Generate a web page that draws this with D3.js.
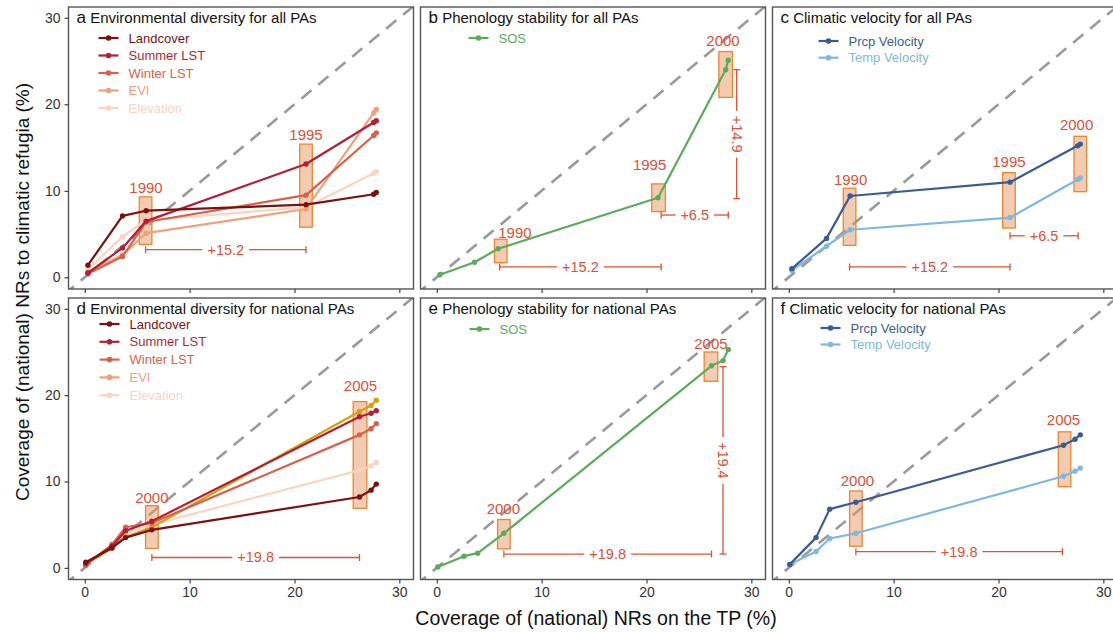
<!DOCTYPE html>
<html>
<head>
<meta charset="utf-8">
<script src="https://cdn.jsdelivr.net/npm/d3@7"></script>
<style>
  body { margin: 0; background: #fff; }
  svg { display: block; font-family: 'Liberation Sans', Arial, sans-serif; }
</style>
</head>
<body>
<script>
// coverage of NRs on the TP (%) at each step
const xAll = [0.3, 3.6, 5.85, 21.1, 27.55, 27.8];
const xNat = [0.1, 2.6, 3.9, 6.4, 26.2, 27.3, 27.8];

// coverage of NRs to climatic refugia (%) - all PAs
const aLandcover = [1.4, 7.1, 7.7, 8.4, 9.6, 9.8];
const aSummer    = [0.5, 3.4, 6.5, 13.1, 17.9, 18.1];
const aWinter    = [0.4, 2.4, 6.4, 9.5, 16.4, 16.7];
const aEVI       = [0.6, 2.6, 5.1, 7.9, 19.0, 19.4];
const aElevation = [0.9, 4.7, 6.6, 8.1, 12.0, 12.2];
const bSOS       = [0.3, 1.75, 3.3, 9.2, 24.0, 25.1];
const cPrcp      = [1.0, 4.5, 9.4, 11.0, 15.2, 15.4];
const cTemp      = [0.8, 3.6, 5.5, 6.9, 11.3, 11.5];

// national PAs
const dLandcover = [0.65, 2.3, 3.5, 4.4, 8.2, 9.0, 9.7];
const dSummer    = [0.5, 2.5, 4.3, 5.4, 17.5, 17.9, 18.2];
const dWinter    = [0.3, 2.7, 4.7, 5.2, 15.4, 16.1, 16.7];
const dEVI       = [0.4, 2.3, 3.6, 4.7, 18.1, 18.8, 19.4];
const dElevation = [0.5, 2.7, 4.0, 5.0, 11.3, 11.8, 12.2];
const eSOS       = [0.1, 1.35, 1.7, 4.0, 23.4, 24.0, 25.3];
const fPrcp      = [0.4, 3.5, 6.8, 7.6, 14.2, 14.9, 15.4];
const fTemp      = [0.4, 1.9, 3.4, 4.0, 10.6, 11.2, 11.55];

const xTicks = [0, 10, 20, 30];
const yTicks = [0, 10, 20, 30];

// highlighted years: [panel, year, x0, x1, y0, y1, labelX, labelY]
const yearBoxes = [
  ['a', '1990', 5.2, 6.4, 3.8, 9.3, 5.84, 9.8],
  ['a', '1995', 20.5, 21.7, 5.8, 15.4, 21.1, 15.9],
  ['b', '1990', 5.5, 6.7, 1.7, 4.4, 7.46, 4.6],
  ['b', '1995', 20.5, 21.8, 7.6, 10.8, 20.3, 12.4],
  ['b', '2000', 26.9, 28.2, 20.8, 26.1, 27.3, 26.7],
  ['c', '1990', 5.2, 6.4, 3.7, 10.3, 5.9, 10.7],
  ['c', '1995', 20.4, 21.6, 5.7, 12.1, 21.0, 12.8],
  ['c', '2000', 27.2, 28.4, 9.9, 16.3, 27.45, 17.0],
  ['d', '2000', 5.8, 7.0, 2.25, 7.2, 6.4, 7.5],
  ['d', '2005', 25.6, 26.9, 6.9, 19.25, 26.3, 20.5],
  ['e', '2000', 5.8, 7.0, 2.2, 5.6, 6.35, 6.2],
  ['e', '2005', 25.5, 26.8, 21.6, 25.0, 26.15, 25.3],
  ['f', '2000', 5.8, 7.0, 2.5, 8.9, 6.55, 9.5],
  ['f', '2005', 25.7, 26.9, 9.4, 15.75, 26.2, 16.6]
];

// increments: [panel, label, direction, from, to, at]
const increments = [
  ['a', '+15.2', 'h', 5.8, 21.1, 3.2],
  ['b', '+15.2', 'h', 6.0, 21.4, 1.2],
  ['b', '+6.5', 'h', 21.4, 27.8, 7.2],
  ['b', '+14.9', 'v', 9.1, 24.0, 28.6],
  ['c', '+15.2', 'h', 5.8, 21.1, 1.2],
  ['c', '+6.5', 'h', 21.1, 27.6, 4.8],
  ['d', '+19.8', 'h', 6.4, 26.2, 1.2],
  ['e', '+19.8', 'h', 6.4, 26.2, 1.6],
  ['e', '+19.4', 'v', 1.6, 23.3, 27.3],
  ['f', '+19.8', 'h', 6.4, 26.1, 1.87]
];

const reds = { Landcover: '#7e1010', 'Summer LST': '#b41f35', 'Winter LST': '#d9614c', EVI: '#f2a07b', Elevation: '#fbd3bf' };
const green = '#5aac5a', prcpCol = '#3b5b93', tempCol = '#7db7e2';
const annoCol = '#e44e36';

const panels = [
  { id: 'a', title: 'Environmental diversity for all PAs', col: 0, row: 0, xs: xAll,
    series: [['Landcover', aLandcover], ['Summer LST', aSummer], ['Winter LST', aWinter], ['EVI', aEVI], ['Elevation', aElevation]],
    legX: 30, legY: 31, legStep: 17.5 },
  { id: 'b', title: 'Phenology stability for all PAs', col: 1, row: 0, xs: xAll,
    series: [['SOS', bSOS]], legX: 48, legY: 31, legStep: 17 },
  { id: 'c', title: 'Climatic velocity for all PAs', col: 2, row: 0, xs: xAll,
    series: [['Prcp Velocity', cPrcp], ['Temp Velocity', cTemp]], legX: 46, legY: 34, legStep: 16.7 },
  { id: 'd', title: 'Environmental diversity for national PAs', col: 0, row: 1, xs: xNat,
    series: [['Landcover', dLandcover], ['Summer LST', dSummer], ['Winter LST', dWinter], ['EVI', dEVI], ['Elevation', dElevation]],
    legX: 31, legY: 26, legStep: 17.8 },
  { id: 'e', title: 'Phenology stability for national PAs', col: 1, row: 1, xs: xNat,
    series: [['SOS', eSOS]], legX: 49, legY: 31, legStep: 17 },
  { id: 'f', title: 'Climatic velocity for national PAs', col: 2, row: 1, xs: xNat,
    series: [['Prcp Velocity', fPrcp], ['Temp Velocity', fTemp]], legX: 48, legY: 30, legStep: 16.5 }
];

function colorOf(p, name) {
  if (name === 'SOS') return green;
  if (name === 'Prcp Velocity') return prcpCol;
  if (name === 'Temp Velocity') return tempCol;
  return reds[name];
}
// in panel d the EVI line itself is drawn in gold
function lineColorOf(p, name) {
  if (p.id === 'd' && name === 'EVI') return '#d4a20a';
  return colorOf(p, name);
}

const W = 1113, H = 632;
const lefts = [68.5, 420.5, 772.5], pw = 345;
const rows = [[7, 289], [298, 579.5]];

const svg = d3.select('body').append('svg').attr('width', W).attr('height', H);
svg.append('rect').attr('width', W).attr('height', H).attr('fill', '#fff');

panels.forEach(p => {
  const left = lefts[p.col], top = rows[p.row][0], bottom = rows[p.row][1];
  const x = d3.scaleLinear().domain([-1.55, 31.35]).range([left, left + pw]);
  const y = d3.scaleLinear().domain([-1.35, 31.25]).range([bottom, top]);
  const g = svg.append('g');

  const clipId = 'clip_' + p.id;
  svg.append('clipPath').attr('id', clipId)
    .append('rect').attr('x', left).attr('y', top).attr('width', pw).attr('height', bottom - top);
  const inner = g.append('g').attr('clip-path', `url(#${clipId})`);

  // 1:1 reference line
  inner.append('line')
    .attr('x1', x(-2)).attr('y1', y(-2)).attr('x2', x(32)).attr('y2', y(32))
    .attr('stroke', '#9a9a9a').attr('stroke-width', 2.6).attr('stroke-dasharray', '13,9');

  // year boxes
  yearBoxes.filter(b => b[0] === p.id).forEach(b => {
    inner.append('rect')
      .attr('x', x(b[2])).attr('y', y(b[5]))
      .attr('width', x(b[3]) - x(b[2])).attr('height', y(b[4]) - y(b[5]))
      .attr('fill', '#e69a66').attr('fill-opacity', 0.5)
      .attr('stroke', '#f4832a').attr('stroke-width', 1.3);
  });

  // series lines and points
  const line = d3.line().x(d => x(d[0])).y(d => y(d[1]));
  p.series.slice().reverse().forEach(([name, vals]) => {
    const pts = vals.map((v, i) => [p.xs[i], v]);
    const c = lineColorOf(p, name);
    inner.append('path').attr('d', line(pts))
      .attr('fill', 'none').attr('stroke', c).attr('stroke-width', 2.2).attr('stroke-linejoin', 'round');
    inner.selectAll(null).data(pts).enter().append('circle')
      .attr('cx', d => x(d[0])).attr('cy', d => y(d[1])).attr('r', 2.7).attr('fill', c);
  });

  // year labels
  yearBoxes.filter(b => b[0] === p.id).forEach(b => {
    g.append('text').text(b[1])
      .attr('x', x(b[6])).attr('y', y(b[7]))
      .attr('text-anchor', 'middle').attr('font-size', 15).attr('fill', annoCol);
  });

  // increment brackets
  increments.filter(r => r[0] === p.id).forEach(r => {
    const lab = r[1];
    const ag = g.append('g').attr('stroke', annoCol).attr('stroke-width', 1.3);
    if (r[2] === 'h') {
      const x1 = x(r[3]), x2 = x(r[4]), yy = y(r[5]), xm = (x1 + x2) / 2;
      const t = g.append('text').text(lab).attr('x', xm).attr('y', yy + 5)
        .attr('text-anchor', 'middle').attr('font-size', 14.5).attr('fill', annoCol);
      const half = t.node().getComputedTextLength() / 2 + 5;
      ag.append('line').attr('x1', x1).attr('x2', xm - half).attr('y1', yy).attr('y2', yy);
      ag.append('line').attr('x1', xm + half).attr('x2', x2).attr('y1', yy).attr('y2', yy);
      ag.append('line').attr('x1', x1).attr('x2', x1).attr('y1', yy - 3.5).attr('y2', yy + 3.5);
      ag.append('line').attr('x1', x2).attr('x2', x2).attr('y1', yy - 3.5).attr('y2', yy + 3.5);
    } else {
      const y1 = y(r[3]), y2 = y(r[4]), xx = x(r[5]), ym = (y1 + y2) / 2;
      const t = g.append('text').text(lab)
        .attr('transform', `translate(${xx - 5},${ym}) rotate(90)`)
        .attr('text-anchor', 'middle').attr('font-size', 14.5).attr('fill', annoCol);
      const half = t.node().getComputedTextLength() / 2 + 5;
      ag.append('line').attr('y1', y2).attr('y2', ym - half).attr('x1', xx).attr('x2', xx);
      ag.append('line').attr('y1', ym + half).attr('y2', y1).attr('x1', xx).attr('x2', xx);
      ag.append('line').attr('y1', y1).attr('y2', y1).attr('x1', xx - 3.5).attr('x2', xx + 3.5);
      ag.append('line').attr('y1', y2).attr('y2', y2).attr('x1', xx - 3.5).attr('x2', xx + 3.5);
    }
  });

  // panel border
  g.append('rect').attr('x', left).attr('y', top).attr('width', pw).attr('height', bottom - top)
    .attr('fill', 'none').attr('stroke', '#555').attr('stroke-width', 1.4);

  // title
  const tt = g.append('text').attr('x', left + 8).attr('y', top + 16).attr('font-size', 15).attr('fill', '#111');
  tt.append('tspan').text(p.id).attr('font-size', 17);
  tt.append('tspan').text(' ' + p.title);

  // legend
  p.series.forEach(([name], i) => {
    const ly = top + p.legY + i * p.legStep;
    const lx = left + p.legX;
    const c = colorOf(p, name);
    g.append('line').attr('x1', lx).attr('x2', lx + 20).attr('y1', ly).attr('y2', ly)
      .attr('stroke', c).attr('stroke-width', 2.2);
    g.append('circle').attr('cx', lx + 10).attr('cy', ly).attr('r', 2.8).attr('fill', c);
    g.append('text').text(name).attr('x', lx + 30).attr('y', ly + 4.5)
      .attr('font-size', 13).attr('fill', c);
  });

  // x axis ticks (labels only on bottom row)
  const xa = g.append('g').attr('transform', `translate(0,${bottom})`)
    .call(d3.axisBottom(x).tickValues(xTicks).tickSize(4).tickPadding(4)
      .tickFormat(p.row === 1 ? d3.format('d') : () => ''));
  xa.select('.domain').remove();
  xa.selectAll('line').attr('stroke', '#333').attr('stroke-width', 1.1);
  xa.selectAll('text').attr('font-size', 14).attr('fill', '#333').style('font-family', "'Liberation Sans', Arial, sans-serif");

  if (p.col === 0) {
    const ya = g.append('g').attr('transform', `translate(${left},0)`)
      .call(d3.axisLeft(y).tickValues(yTicks).tickSize(4).tickPadding(4).tickFormat(d3.format('d')));
    ya.select('.domain').remove();
    ya.selectAll('line').attr('stroke', '#333').attr('stroke-width', 1.1);
    ya.selectAll('text').attr('font-size', 14).attr('fill', '#333').style('font-family', "'Liberation Sans', Arial, sans-serif");
  }
});

// axis titles
svg.append('text').text('Coverage of (national) NRs on the TP (%)')
  .attr('x', 596).attr('y', 625).attr('text-anchor', 'middle').attr('font-size', 19.5).attr('fill', '#111');
svg.append('text').text('Coverage of (national) NRs to climatic refugia (%)')
  .attr('transform', 'translate(29,292) rotate(-90)')
  .attr('text-anchor', 'middle').attr('font-size', 19).attr('fill', '#111');
</script>
</body>
</html>
